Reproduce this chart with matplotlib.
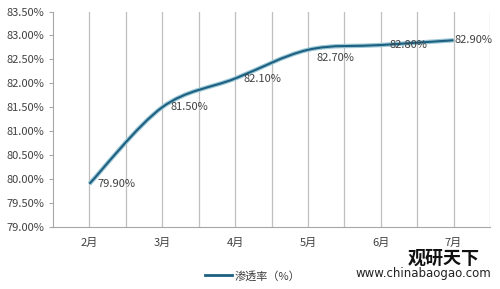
import matplotlib.pyplot as plt
import numpy as np
from matplotlib.path import Path
from matplotlib.patches import PathPatch

plt.rcParams['font.family'] = ['Noto Sans CJK SC', 'DejaVu Sans']

# données
mois = ['2月', '3月', '4月', '5月', '6月', '7月']
taux = [79.90, 81.50, 82.10, 82.70, 82.80, 82.90]
etiquettes = ['79.90%', '81.50%', '82.10%', '82.70%', '82.80%', '82.90%']
yticks = [79.0, 79.5, 80.0, 80.5, 81.0, 81.5, 82.0, 82.5, 83.0, 83.5]


def courbe_lisse(x, y):
    # courbe de Bezier (type Catmull-Rom) passant par les points, comme la ligne lissée d'Excel
    verts = [(x[0], y[0])]
    codes = [Path.MOVETO]
    n = len(x)
    for i in range(n - 1):
        x0, y0 = (x[i - 1], y[i - 1]) if i > 0 else (x[i], y[i])
        x3, y3 = (x[i + 2], y[i + 2]) if i + 2 < n else (x[i + 1], y[i + 1])
        c1 = (x[i] + (x[i + 1] - x0) / 6, y[i] + (y[i + 1] - y0) / 6)
        c2 = (x[i + 1] - (x3 - x[i]) / 6, y[i + 1] - (y3 - y[i]) / 6)
        verts += [c1, c2, (x[i + 1], y[i + 1])]
        codes += [Path.CURVE4] * 3
    return Path(verts, codes)


fig = plt.figure(figsize=(5, 2.89), dpi=100)
ax = fig.add_axes([0.106, 0.215, 0.874, 0.745])

xs = np.arange(len(mois))
chemin = courbe_lisse(xs, taux)
ax.add_patch(PathPatch(chemin, facecolor='none', edgecolor='#9cc8d6', lw=3.2, zorder=3))
ax.add_patch(PathPatch(chemin, facecolor='none', edgecolor='#1d5f80', lw=1.5, zorder=4))
ax.plot([], [], color='#1d5f80', lw=2, label='渗透率（%）')

for i, (v, t) in enumerate(zip(taux, etiquettes)):
    dx = 0.5 if i == len(taux) - 1 else 6
    dy = -6 if i == 3 else 0
    ax.annotate(t, (i, v), xytext=(dx, dy), textcoords='offset points',
                ha='left', va='center', fontsize=8, color='#404040', zorder=5)

ax.set_xlim(-0.5, len(mois) - 0.5)
ax.set_ylim(79.0, 83.5)
ax.set_yticks(yticks)
ax.set_yticklabels(['%.2f%%' % v for v in yticks], fontsize=8, color='#404040')
ax.set_xticks(xs)
ax.set_xticklabels(mois, fontsize=8, color='#404040')
for g in np.arange(0, len(mois), 0.5):
    ax.axvline(g, color='#bfbfbf', lw=0.9, zorder=1)
ax.tick_params(axis='x', length=0, pad=8)
ax.tick_params(axis='y', length=3, color='#a6a6a6', pad=3)

for s in ['top', 'right']:
    ax.spines[s].set_visible(False)
for s in ['left', 'bottom']:
    ax.spines[s].set_color('#a6a6a6')

fig.legend(loc='center', bbox_to_anchor=(0.505, 0.045), frameon=False,
           fontsize=8, handlelength=2.5, handletextpad=0.2, labelcolor='#404040')

# filigrane
fig.text(0.887, 0.105, '观研天下', fontsize=13, fontweight='bold', color='#111111',
         ha='center', va='center')
fig.text(0.847, 0.052, 'www.chinabaogao.com', fontsize=8.5, color='#222222',
         ha='center', va='center', family='DejaVu Sans')

fig.savefig('out.png', dpi=100)
